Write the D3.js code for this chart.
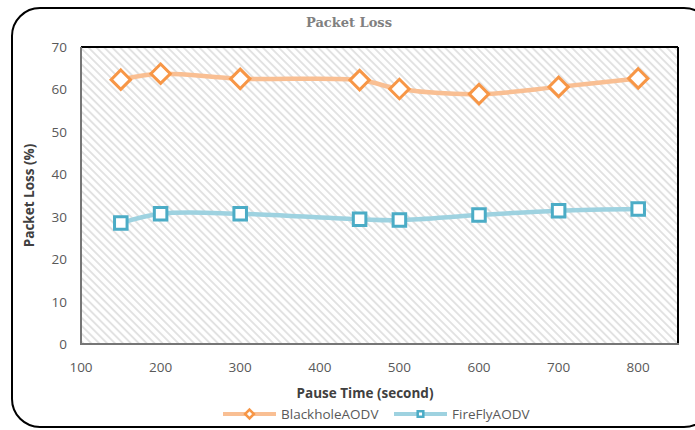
<!DOCTYPE html>
<html>
<head>
<meta charset="utf-8">
<script src="https://cdn.jsdelivr.net/npm/d3@7"></script>
<style>
  body { margin: 0; background: #fff; }
  svg { display: block; }
</style>
</head>
<body>
<svg id="chart" width="695" height="430"></svg>
<script>
// Chart values
const pauseTimes = [150, 200, 300, 450, 500, 600, 700, 800];
const blackholeLoss = [62.3, 63.7, 62.5, 62.2, 60.1, 58.9, 60.6, 62.6];
const fireflyLoss = [28.5, 30.7, 30.7, 29.4, 29.2, 30.4, 31.4, 31.8];
const xTicks = [100, 200, 300, 400, 500, 600, 700, 800];
const yTicks = [0, 10, 20, 30, 40, 50, 60, 70];
const seriesNames = ["BlackholeAODV", "FireFlyAODV"];

const svg = d3.select("#chart");
const margin = { left: 81, right: 17, top: 47, bottom: 86 };
const width = +svg.attr("width");
const height = +svg.attr("height");

const x = d3.scaleLinear().domain([100, 850]).range([margin.left, width - margin.right]);
const y = d3.scaleLinear().domain([0, 70]).range([height - margin.bottom, margin.top]);

// outer rounded frame
svg.append("rect")
    .attr("x", 12).attr("y", 8)
    .attr("width", 700).attr("height", 419)
    .attr("rx", 28).attr("ry", 28)
    .attr("fill", "#fff")
    .attr("stroke", "#000")
    .attr("stroke-width", 2);

// hatch pattern for plot area ("\" direction)
const defs = svg.append("defs");
const pat = defs.append("pattern")
    .attr("id", "hatch")
    .attr("patternUnits", "userSpaceOnUse")
    .attr("width", 5.6).attr("height", 5.6)
    .attr("patternTransform", "rotate(-45)");
pat.append("rect").attr("width", 5.6).attr("height", 5.6).attr("fill", "#fff");
pat.append("line")
    .attr("x1", 1).attr("y1", 0).attr("x2", 1).attr("y2", 5.6)
    .attr("stroke", "#e0e0e0").attr("stroke-width", 1.8);

const x0 = x(100), x1 = x(850), y0 = y(0), y1 = y(70);
svg.append("rect")
    .attr("x", x0).attr("y", y1)
    .attr("width", x1 - x0).attr("height", y0 - y1)
    .attr("fill", "url(#hatch)");

// plot borders: top/right black, left/bottom gray
svg.append("line").attr("x1", x0).attr("x2", x1).attr("y1", y1).attr("y2", y1)
    .attr("stroke", "#000").attr("stroke-width", 2);
svg.append("line").attr("x1", x1).attr("x2", x1).attr("y1", y1).attr("y2", y0)
    .attr("stroke", "#000").attr("stroke-width", 2);
svg.append("line").attr("x1", x0).attr("x2", x0).attr("y1", y1).attr("y2", y0 + 1)
    .attr("stroke", "#767676").attr("stroke-width", 2);
svg.append("line").attr("x1", x0 - 1).attr("x2", x1 + 1).attr("y1", y0).attr("y2", y0)
    .attr("stroke", "#767676").attr("stroke-width", 2);

// tick labels
const font = "Open Sans, Liberation Sans, sans-serif";
svg.append("g").selectAll("text")
    .data(yTicks)
    .join("text")
    .attr("x", x0 - 14)
    .attr("y", d => y(d) + 5)
    .attr("text-anchor", "end")
    .attr("font-family", font)
    .attr("font-size", 13.5)
    .attr("fill", "#595959")
    .text(d => d);

svg.append("g").selectAll("text")
    .data(xTicks)
    .join("text")
    .attr("x", d => x(d))
    .attr("y", y0 + 28)
    .attr("text-anchor", "middle")
    .attr("font-family", font)
    .attr("font-size", 13.5)
    .attr("fill", "#595959")
    .text(d => d);

// titles
svg.append("text")
    .attr("x", 349).attr("y", 27)
    .attr("text-anchor", "middle")
    .attr("font-family", "DejaVu Serif, Liberation Serif, serif")
    .attr("font-weight", "bold")
    .attr("font-size", 13)
    .attr("fill", "#808080")
    .text("Packet Loss");

svg.append("text")
    .attr("x", 365).attr("y", 398)
    .attr("text-anchor", "middle")
    .attr("font-family", font)
    .attr("font-weight", "bold")
    .attr("font-size", 13.5)
    .attr("fill", "#404040")
    .text("Pause Time (second)");

svg.append("text")
    .attr("transform", `translate(34,${(y0 + y1) / 2}) rotate(-90)`)
    .attr("text-anchor", "middle")
    .attr("font-family", font)
    .attr("font-weight", "bold")
    .attr("font-size", 13.5)
    .attr("fill", "#404040")
    .text("Packet Loss (%)");

// series
const series = [
    { name: seriesNames[0], values: blackholeLoss, line: "#f9bf93", mark: "#f79646", shape: d3.symbolDiamond2 },
    { name: seriesNames[1], values: fireflyLoss, line: "#9ed2e0", mark: "#4bacc6", shape: d3.symbolSquare2 }
];

const lineGen = d3.line()
    .x(d => x(d[0]))
    .y(d => y(d[1]))
    .curve(d3.curveCatmullRom.alpha(0.5));

series.forEach(s => {
    const pts = pauseTimes.map((t, i) => [t, s.values[i]]);
    svg.append("path")
        .datum(pts)
        .attr("d", lineGen)
        .attr("fill", "none")
        .attr("stroke", s.line)
        .attr("stroke-width", 4.5);

    svg.append("g").selectAll("path")
        .data(pts)
        .join("path")
        .attr("transform", d => `translate(${x(d[0])},${y(d[1])})`)
        .attr("d", d3.symbol().type(s.shape).size(s.shape === d3.symbolSquare2 ? 200 : 240))
        .attr("fill", "#fff")
        .attr("stroke", s.mark)
        .attr("stroke-width", 3);
});

// legend
const legend = svg.append("g").attr("transform", "translate(0,414)");
const legendX = [223, 394];
series.forEach((s, i) => {
    const lx = legendX[i];
    legend.append("line")
        .attr("x1", lx).attr("x2", lx + 53)
        .attr("stroke", s.line).attr("stroke-width", 4);
    legend.append("path")
        .attr("transform", `translate(${lx + 26.5},0)`)
        .attr("d", d3.symbol().type(s.shape).size(s.shape === d3.symbolSquare2 ? 40 : 50))
        .attr("fill", "#fff")
        .attr("stroke", s.mark)
        .attr("stroke-width", 2.5);
    legend.append("text")
        .attr("x", lx + 58).attr("y", 5)
        .attr("font-family", font)
        .attr("font-size", 13.5)
        .attr("fill", "#595959")
        .text(s.name);
});
</script>
</body>
</html>
